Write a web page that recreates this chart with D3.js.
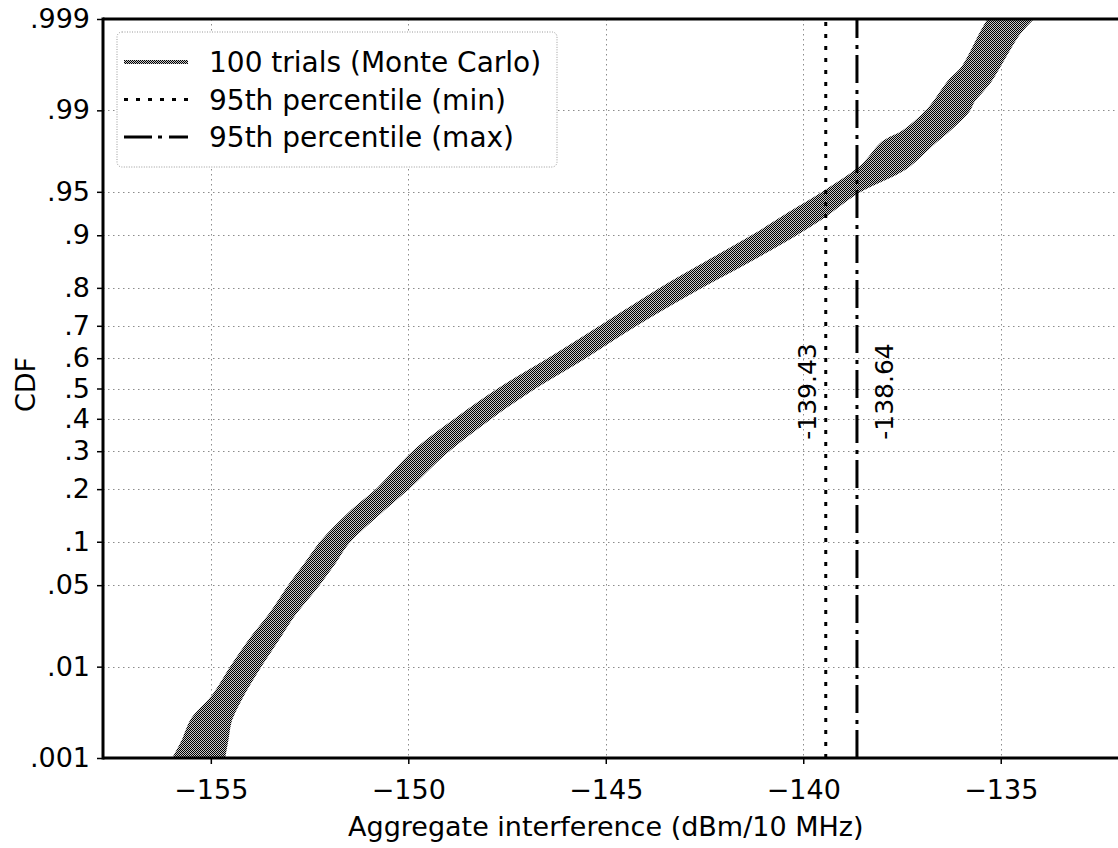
<!DOCTYPE html>
<html>
<head>
<meta charset="utf-8">
<script src="https://cdn.jsdelivr.net/npm/d3@7"></script>
<style>
  body { margin: 0; background: #fff; }
  svg { display: block; }
  text { font-family: "DejaVu Sans", sans-serif; fill: #000; }
</style>
</head>
<body>
<svg id="chart" width="1118" height="848"></svg>
<script>
// CDF levels at which the envelope of the 100 Monte Carlo trials is tabulated
const cdfLevels = [0.001, 0.0016, 0.0028, 0.005, 0.01, 0.018, 0.03, 0.05, 0.07, 0.1,
                   0.15, 0.2, 0.3, 0.4, 0.5, 0.6, 0.7, 0.8, 0.855, 0.9,
                   0.925, 0.95, 0.968, 0.98, 0.984, 0.99, 0.992, 0.9947, 0.9964, 0.9985, 0.999];
// lowest interference among the trials at each level (dBm/10 MHz)
const trialsMin = [-155.92, -155.69, -155.46, -154.93, -154.45, -153.97, -153.46, -152.98, -152.60, -152.17,
                   -151.44, -150.75, -149.82, -148.75, -147.64, -146.37, -145.06, -143.54, -142.40, -141.21,
                   -140.45, -139.43, -138.52, -137.97, -137.46, -136.83, -136.63, -136.32, -135.94, -135.49, -135.28];
// highest interference among the trials at each level (dBm/10 MHz)
const trialsMax = [-154.69, -154.61, -154.51, -154.23, -153.78, -153.32, -152.89, -152.31, -151.93, -151.53,
                   -150.74, -150.06, -149.04, -147.98, -146.87, -145.60, -144.31, -142.66, -141.45, -140.26,
                   -139.50, -138.64, -137.40, -136.72, -136.39, -135.83, -135.70, -135.32, -135.07, -134.56, -134.23];

// 95th percentile across trials
const pct95Min = -139.43;
const pct95Max = -138.64;

const xDomain = [-157.73, -131.98];
const xTickValues = [-155, -150, -145, -140, -135];
const yTickValues = [0.001, 0.01, 0.05, 0.1, 0.2, 0.3, 0.4, 0.5, 0.6, 0.7, 0.8, 0.9, 0.95, 0.99, 0.999];
const yTickLabels = [".001", ".01", ".05", ".1", ".2", ".3", ".4", ".5", ".6", ".7", ".8", ".9", ".95", ".99", ".999"];
const legendLabels = ["100 trials (Monte Carlo)", "95th percentile (min)", "95th percentile (max)"];
const xTitle = "Aggregate interference (dBm/10 MHz)";
const yTitle = "CDF";

// inverse of the standard normal CDF (Acklam's rational approximation)
function probit(p) {
  const a = [-3.969683028665376e+01, 2.209460984245205e+02, -2.759285104469687e+02,
             1.383577518672690e+02, -3.066479806614716e+01, 2.506628277459239e+00];
  const b = [-5.447609879822406e+01, 1.615858368580409e+02, -1.556989798598866e+02,
             6.680131188771972e+01, -1.328068155288572e+01];
  const c = [-7.784894002430293e-03, -3.223964580411365e-01, -2.400758277161838e+00,
             -2.549732539343734e+00, 4.374664141464968e+00, 2.938163982698783e+00];
  const d = [7.784695709041462e-03, 3.224671290700398e-01, 2.445134137142996e+00,
             3.754408661907416e+00];
  const pl = 0.02425, ph = 1 - pl;
  let q, r;
  if (p < pl) {
    q = Math.sqrt(-2 * Math.log(p));
    return (((((c[0]*q+c[1])*q+c[2])*q+c[3])*q+c[4])*q+c[5]) / ((((d[0]*q+d[1])*q+d[2])*q+d[3])*q+1);
  }
  if (p <= ph) {
    q = p - 0.5; r = q * q;
    return (((((a[0]*r+a[1])*r+a[2])*r+a[3])*r+a[4])*r+a[5])*q / (((((b[0]*r+b[1])*r+b[2])*r+b[3])*r+b[4])*r+1);
  }
  q = Math.sqrt(-2 * Math.log(1 - p));
  return -(((((c[0]*q+c[1])*q+c[2])*q+c[3])*q+c[4])*q+c[5]) / ((((d[0]*q+d[1])*q+d[2])*q+d[3])*q+1);
}

const plot = { left: 103, right: 1120, top: 19, bottom: 758 };
const FONT = 27;

const svg = d3.select("#chart");

const x = d3.scaleLinear().domain(xDomain).range([plot.left, plot.right]);
// probability axis: linear in normal quantiles
const yz = d3.scaleLinear()
  .domain([probit(yTickValues[0]), probit(yTickValues[yTickValues.length - 1])])
  .range([plot.bottom, plot.top]);
const y = p => yz(probit(p));

// halftone fill used for the trial envelope
const defs = svg.append("defs");
const pat = defs.append("pattern").attr("id", "halftone")
  .attr("width", 2).attr("height", 2).attr("patternUnits", "userSpaceOnUse");
pat.append("rect").attr("width", 2).attr("height", 2).attr("fill", "#c8c8c8");
pat.append("rect").attr("x", 0).attr("y", 0).attr("width", 1).attr("height", 1).attr("fill", "#000");
pat.append("rect").attr("x", 1).attr("y", 1).attr("width", 1).attr("height", 1).attr("fill", "#000");
defs.append("clipPath").attr("id", "plotClip").append("rect")
  .attr("x", plot.left).attr("y", plot.top)
  .attr("width", plot.right - plot.left).attr("height", plot.bottom - plot.top);

// grid
const grid = svg.append("g").attr("stroke", "#8c8c8c").attr("stroke-width", 1)
  .attr("stroke-dasharray", "1.5,3.5").attr("fill", "none");
grid.selectAll("line.gx").data(xTickValues).join("line").attr("class", "gx")
  .attr("x1", d => Math.round(x(d)) + 0.5).attr("x2", d => Math.round(x(d)) + 0.5)
  .attr("y1", plot.top).attr("y2", plot.bottom);
grid.selectAll("line.gy").data(yTickValues).join("line").attr("class", "gy")
  .attr("x1", plot.left).attr("x2", plot.right)
  .attr("y1", d => Math.round(y(d)) + 0.5).attr("y2", d => Math.round(y(d)) + 0.5);

// envelope of the Monte Carlo trials
const bandData = cdfLevels.map((p, i) => ({ p, lo: trialsMin[i], hi: trialsMax[i] }));
const area = d3.area()
  .curve(d3.curveCatmullRom.alpha(0.5))
  .y(d => y(d.p))
  .x0(d => x(d.lo))
  .x1(d => x(d.hi));
svg.append("g").attr("clip-path", "url(#plotClip)")
  .append("path")
  .datum(bandData)
  .attr("d", area)
  .attr("fill", "url(#halftone)")
  .attr("stroke", "url(#halftone)")
  .attr("stroke-width", 4)
  .attr("stroke-linejoin", "round");

// 95th percentile markers
const styles = [
  { dash: "4,8", width: 3 },
  { dash: "28,6,4,7", width: 3 }
];
const vlines = [
  { v: pct95Min, style: styles[0], dx: -10, label: "-139.43" },
  { v: pct95Max, style: styles[1], dx: 36, label: "-138.64" }
];
svg.append("g").selectAll("line").data(vlines).join("line")
  .attr("x1", d => x(d.v)).attr("x2", d => x(d.v))
  .attr("y1", plot.bottom).attr("y2", plot.top)
  .attr("stroke", "#000")
  .attr("stroke-width", d => d.style.width)
  .attr("stroke-dasharray", d => d.style.dash);
svg.append("g").selectAll("text").data(vlines).join("text")
  .attr("transform", d => `translate(${x(d.v) + d.dx},${y(0.5) + 3}) rotate(-90)`)
  .attr("text-anchor", "middle")
  .attr("font-size", 25)
  .text(d => d.label);

// axes
const xAxis = d3.axisBottom(x).tickValues(xTickValues)
  .tickFormat(d3.format("d")).tickSize(6).tickPadding(16).tickSizeOuter(0);
const gx = svg.append("g").attr("transform", `translate(0,${plot.bottom})`).call(xAxis);
gx.select(".domain").remove();
gx.selectAll(".tick line").attr("stroke-width", 1.5);
gx.selectAll(".tick text").attr("font-size", FONT).attr("font-family", "DejaVu Sans");

const yAxis = d3.axisLeft(yz).tickValues(yTickValues.map(probit))
  .tickFormat((d, i) => yTickLabels[i]).tickSize(6).tickPadding(7).tickSizeOuter(0);
const gy = svg.append("g").attr("transform", `translate(${plot.left},0)`).call(yAxis);
gy.select(".domain").remove();
gy.selectAll(".tick line").attr("stroke-width", 1.5);
gy.selectAll(".tick text").attr("font-size", FONT).attr("font-family", "DejaVu Sans");

// spines
const spines = svg.append("g").attr("stroke", "#000").attr("stroke-width", 3).attr("fill", "none");
spines.append("line").attr("x1", plot.left).attr("x2", plot.left).attr("y1", plot.top - 1.5).attr("y2", plot.bottom + 1.5);
spines.append("line").attr("x1", plot.left).attr("x2", plot.right).attr("y1", plot.bottom).attr("y2", plot.bottom);
spines.append("line").attr("x1", plot.left).attr("x2", plot.right).attr("y1", plot.top).attr("y2", plot.top);

// axis titles
svg.append("text")
  .attr("x", x(-145)).attr("y", 836)
  .attr("text-anchor", "middle").attr("font-size", FONT)
  .text(xTitle);
svg.append("text")
  .attr("transform", `translate(35,${y(0.5) - 4}) rotate(-90)`)
  .attr("text-anchor", "middle").attr("font-size", FONT)
  .text(yTitle);

// legend
const leg = svg.append("g");
leg.append("rect")
  .attr("x", 117).attr("y", 32).attr("width", 440).attr("height", 135).attr("rx", 5)
  .attr("fill", "#fff").attr("stroke", "#9a9a9a").attr("stroke-width", 1)
  .attr("stroke-dasharray", "1,1.5");
const legendItems = [
  { stroke: "url(#halftone)", dash: null, width: 4 },
  { stroke: "#000", dash: styles[0].dash, width: styles[0].width },
  { stroke: "#000", dash: styles[1].dash, width: styles[1].width }
];
const rows = leg.selectAll("g.row").data(legendLabels).join("g").attr("class", "row")
  .attr("transform", (d, i) => `translate(0,${62 + i * 37.5})`);
rows.append("line")
  .attr("x1", 124).attr("x2", 188).attr("y1", 0).attr("y2", 0)
  .attr("stroke", (d, i) => legendItems[i].stroke)
  .attr("stroke-width", (d, i) => legendItems[i].width)
  .attr("stroke-dasharray", (d, i) => legendItems[i].dash);
rows.append("text")
  .attr("x", 209).attr("y", 10)
  .attr("font-size", 28)
  .text(d => d);
</script>
</body>
</html>
